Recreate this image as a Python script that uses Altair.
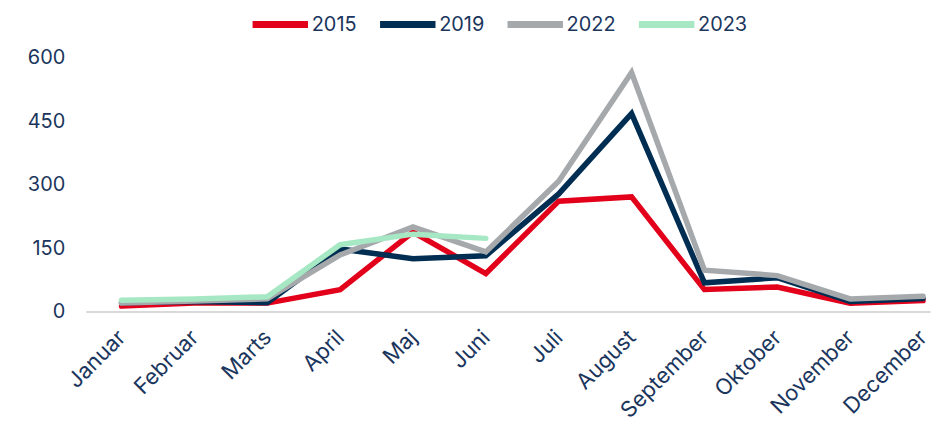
import altair as alt
import pandas as pd

months = ["Januar", "Februar", "Marts", "April", "Maj", "Juni", "Juli",
          "August", "September", "Oktober", "November", "December"]
years = ["2015", "2019", "2022", "2023"]
v2015 = [13, 20, 20, 52, 188, 90, 261, 271, 52, 58, 20, 26]
v2019 = [21, 24, 21, 148, 125, 132, 278, 468, 68, 80, 24, 31]
v2022 = [20, 25, 30, 134, 200, 141, 308, 565, 98, 85, 30, 36]
v2023 = [27, 30, 35, 158, 183, 173]
colors = ["#E2001A", "#002D52", "#A6A9AC", "#A6E8C3"]
yticks = [0, 150, 300, 450, 600]

rows = []
for yr, vals in zip(years, [v2015, v2019, v2022, v2023]):
    for i, v in enumerate(vals):
        rows.append({"year": yr, "idx": i, "month": months[i], "value": v})
df = pd.DataFrame(rows)

label_expr = "[" + ",".join(f"'{m}'" for m in months) + "][datum.value]"
font = "Inter"
txt = "#1B365D"

chart = alt.Chart(df).mark_line(strokeWidth=5.5, strokeCap="round", strokeJoin="miter").encode(
    x=alt.X("idx:Q",
            scale=alt.Scale(domain=[-0.492, 11.096], nice=False, zero=False),
            axis=alt.Axis(title=None, values=list(range(12)), labelExpr=label_expr,
                          labelAngle=-45, labelAlign="right", labelBaseline="middle",
                          labelPadding=22, ticks=False, grid=False,
                          domainColor="#D9D9D9", domainWidth=2,
                          labelFont=font, labelFontSize=22, labelColor=txt,
                          labelFlush=False, labelOverlap=False, labelBound=False)),
    y=alt.Y("value:Q",
            scale=alt.Scale(domain=[0, 600], nice=False),
            axis=alt.Axis(title=None, values=yticks, ticks=False, domain=False, grid=False,
                          labelPadding=21, labelFont=font, labelFontSize=20, labelColor=txt)),
    color=alt.Color("year:N",
                    scale=alt.Scale(domain=years, range=colors),
                    legend=alt.Legend(title=None, orient="none", legendX=164, legendY=-65,
                                      direction="horizontal", symbolType="stroke",
                                      symbolStrokeWidth=7, symbolSize=3100,
                                      labelFont=font, labelFontSize=20, labelColor=txt,
                                      labelOffset=0, columnPadding=8, padding=0)),
    order=alt.Order("idx:Q"),
).properties(
    width=848, height=255,
    autosize=alt.AutoSizeParams(type="none"),
    padding={"left": 78, "top": 49, "right": 4, "bottom": 114},
).configure_view(stroke=None)

chart.save("out.html", embed_options={"renderer": "svg", "actions": False})
